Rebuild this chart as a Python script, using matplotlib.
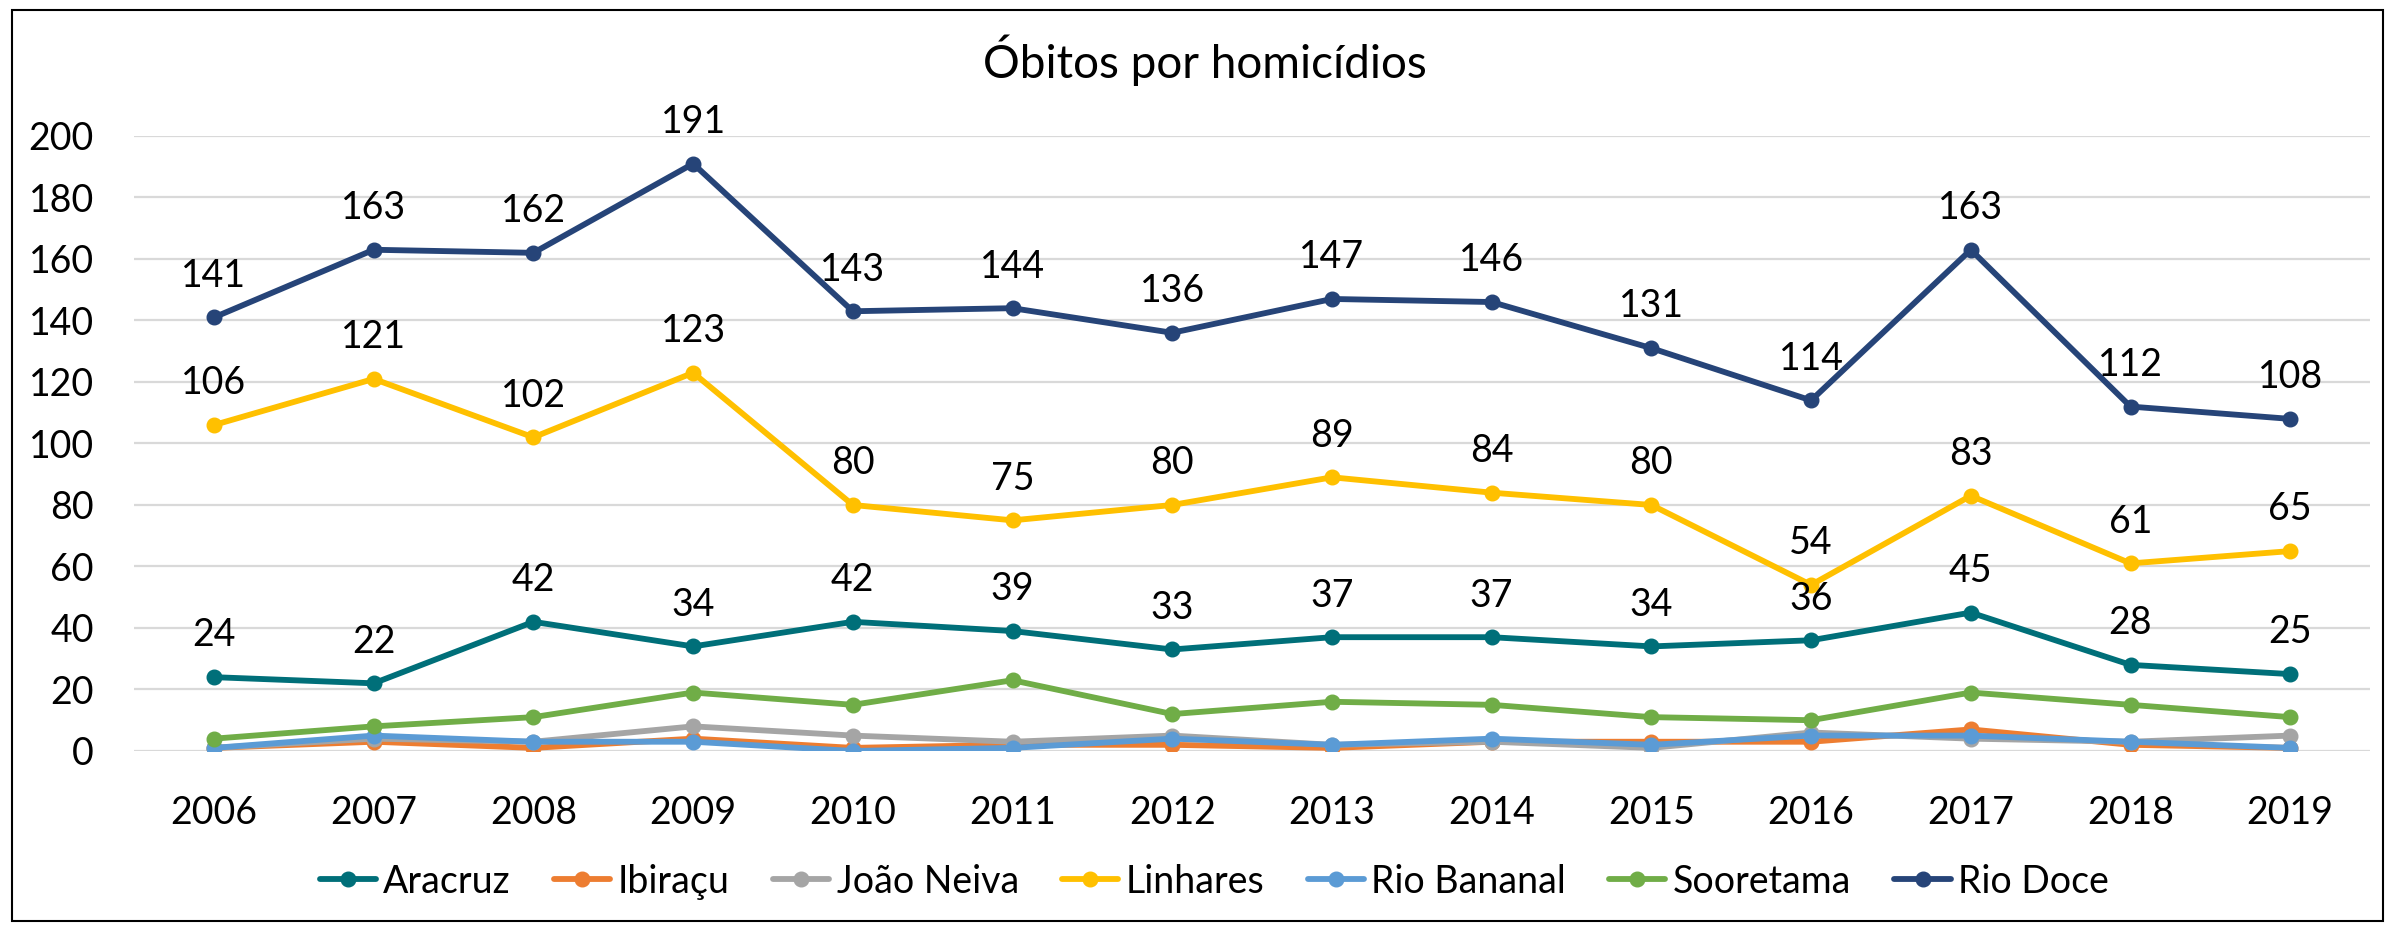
import matplotlib
matplotlib.use('Agg')
import matplotlib.pyplot as plt
from matplotlib.patches import Rectangle

years = ['2006', '2007', '2008', '2009', '2010', '2011', '2012',
         '2013', '2014', '2015', '2016', '2017', '2018', '2019']

aracruz = [24, 22, 42, 34, 42, 39, 33, 37, 37, 34, 36, 45, 28, 25]
ibiracu = [1, 3, 1, 4, 1, 2, 2, 1, 3, 3, 3, 7, 2, 1]
joao_neiva = [1, 4, 3, 8, 5, 3, 5, 2, 3, 1, 6, 4, 3, 5]
linhares = [106, 121, 102, 123, 80, 75, 80, 89, 84, 80, 54, 83, 61, 65]
rio_bananal = [1, 5, 3, 3, 0, 1, 4, 2, 4, 2, 5, 5, 3, 1]
sooretama = [4, 8, 11, 19, 15, 23, 12, 16, 15, 11, 10, 19, 15, 11]
rio_doce = [141, 163, 162, 191, 143, 144, 136, 147, 146, 131, 114, 163, 112, 108]

series = [
    ('Aracruz', aracruz, '#006F79', True),
    ('Ibiraçu', ibiracu, '#ED7D31', False),
    ('João Neiva', joao_neiva, '#A5A5A5', False),
    ('Linhares', linhares, '#FFC000', True),
    ('Rio Bananal', rio_bananal, '#5B9BD5', False),
    ('Sooretama', sooretama, '#70AD47', False),
    ('Rio Doce', rio_doce, '#264478', True),
]

plt.rcParams['font.family'] = ['Lato', 'DejaVu Sans']
fs = 27

fig = plt.figure(figsize=(23.95, 9.27), dpi=100)
ax = fig.add_axes([0.0560, 0.1899, 0.9336, 0.6634])

x = list(range(len(years)))
for name, vals, color, labelled in series:
    ax.plot(x, vals, color=color, lw=4.2, marker='o', ms=10.5,
            label=name, solid_capstyle='round')
    if labelled:
        for xi, v in zip(x, vals):
            ax.annotate(str(v), (xi, v), xytext=(0, 30),
                        textcoords='offset points', ha='center',
                        va='center', fontsize=fs, color='black')

ax.set_xlim(-0.5, len(years) - 0.5)
ax.set_ylim(0, 200)
ax.set_yticks(range(0, 201, 20))
ax.set_xticks(x)
ax.set_xticklabels(years)
ax.tick_params(axis='both', length=0, labelsize=fs)
ax.tick_params(axis='x', pad=32)
ax.tick_params(axis='y', pad=29)
ax.grid(axis='y', color='#D9D9D9', lw=1.6)
ax.set_axisbelow(True)
for s in ax.spines.values():
    s.set_visible(False)

fig.text(0.503, 0.935, 'Óbitos por homicídios', ha='center', va='center',
         fontsize=33)

fig.legend(loc='center', bbox_to_anchor=(0.507, 0.049), ncol=7,
           frameon=False, fontsize=fs, handlelength=1.5,
           handletextpad=0.2, columnspacing=1.15)

fig.patches.append(Rectangle((0.005, 0.006), 0.99, 0.983,
                             transform=fig.transFigure, fill=False,
                             edgecolor='black', lw=1.5))

fig.savefig('out.png', dpi=100)
